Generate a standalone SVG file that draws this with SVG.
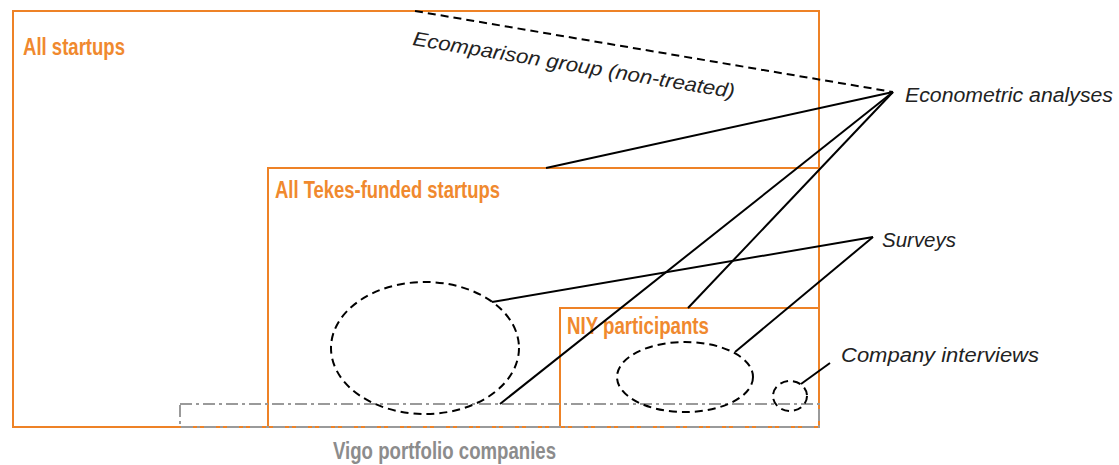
<svg xmlns="http://www.w3.org/2000/svg" width="1119" height="465" viewBox="0 0 1119 465">
<style>
.box{fill:none;stroke:#EE8226;stroke-width:2}
.vigo{fill:none;stroke:#9A9A9A;stroke-width:2;stroke-dasharray:12 4 3 4}
.ell{fill:none;stroke:#000;stroke-width:2;stroke-dasharray:8 5}
.ln{stroke:#000;stroke-width:2;fill:none}
.dash{stroke:#000;stroke-width:2;stroke-dasharray:8 5;fill:none}
.otxt{font-family:"Liberation Sans",Arial,sans-serif;font-weight:bold;font-size:24px;fill:#F0892E}
.gtxt{font-family:"Liberation Sans",Arial,sans-serif;font-weight:bold;font-size:24px;fill:#8C8C8C}
.itxt{font-family:"Liberation Sans",Arial,sans-serif;font-style:italic;font-size:20px;fill:#222}
</style>
<rect width="1119" height="465" fill="#fff"/>
<g id="all-startups">
<rect class="box" x="13" y="11" width="806" height="416"/>
<text class="otxt" x="23" y="55" textLength="102" lengthAdjust="spacingAndGlyphs">All startups</text>
</g>
<g id="tekes">
<rect class="box" x="268" y="168" width="551" height="259"/>
<text class="otxt" x="275" y="198" textLength="225" lengthAdjust="spacingAndGlyphs">All Tekes-funded startups</text>
</g>
<g id="niy">
<rect class="box" x="560" y="308" width="259" height="119"/>
<text class="otxt" x="567" y="334" textLength="142" lengthAdjust="spacingAndGlyphs">NIY participants</text>
</g>
<g id="vigo">
<rect class="vigo" x="180" y="404" width="639" height="23"/>
<text class="gtxt" x="333" y="459" textLength="223" lengthAdjust="spacingAndGlyphs">Vigo portfolio companies</text>
</g>
<g id="survey-ellipse-large"><ellipse class="ell" cx="425" cy="348" rx="94" ry="66"/></g>
<g id="survey-ellipse-niy"><ellipse class="ell" cx="685" cy="377" rx="68" ry="35"/></g>
<g id="interview-circle"><ellipse class="ell" cx="790" cy="396" rx="17" ry="15"/></g>
<g id="econometric"><text class="itxt" x="905" y="102" textLength="208" lengthAdjust="spacingAndGlyphs">Econometric analyses</text></g>
<g id="surveys"><text class="itxt" x="882" y="247" textLength="74" lengthAdjust="spacingAndGlyphs">Surveys</text></g>
<g id="interviews"><text class="itxt" x="841" y="362" textLength="198" lengthAdjust="spacingAndGlyphs">Company interviews</text></g>
<g id="comparison"><text class="itxt" transform="translate(412,45) rotate(9.4)" textLength="326" lengthAdjust="spacingAndGlyphs">Ecomparison group (non-treated)</text></g>
<g id="connectors">
<path class="dash" d="M415 11 L893 92"/>
<path class="ln" d="M893 92 L546 168"/>
<path class="ln" d="M893 92 L500 404"/>
<path class="ln" d="M893 92 L688 308"/>
<path class="ln" d="M873 237 L492 302"/>
<path class="ln" d="M873 237 L735 352"/>
<path class="ln" d="M830 363 L801 384"/>
</g>
</svg>
